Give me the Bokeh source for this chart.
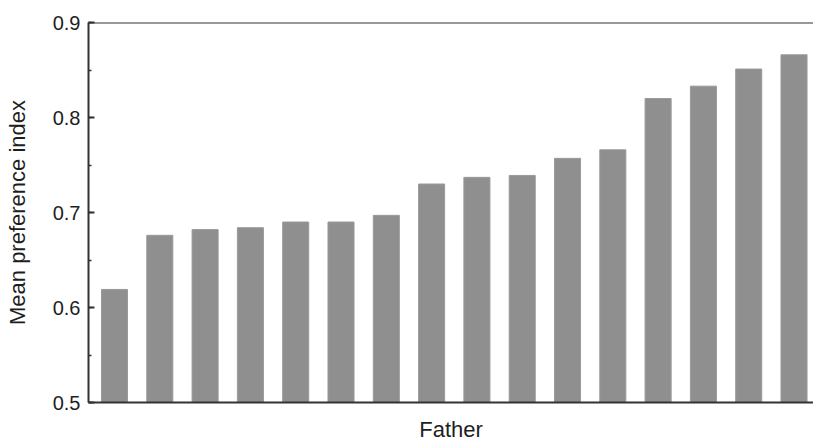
from bokeh.plotting import figure
from bokeh.models import Range1d, SingleIntervalTicker, Span, ColumnDataSource, FixedTicker
from bokeh.embed import file_html
from bokeh.resources import INLINE

fathers = list(range(1, 17))
mean_pref = [0.619, 0.676, 0.682, 0.684, 0.690, 0.690, 0.697, 0.730,
             0.737, 0.739, 0.757, 0.766, 0.820, 0.833, 0.851, 0.866]
y_ticks = [0.5, 0.6, 0.7, 0.8, 0.9]

src = ColumnDataSource(dict(x=fathers, top=mean_pref))

p = figure(width=813, height=444, output_backend="svg", toolbar_location=None,
           x_range=Range1d(0.426, 16.43), y_range=Range1d(0.5, 0.9),
           min_border_left=88, min_border_right=0, min_border_top=22, min_border_bottom=40)

p.vbar(x="x", top="top", bottom=0.5, width=0.575, source=src,
       fill_color="#8f8f8f", line_color="#9a9a9a", line_width=1)

p.grid.visible = False
p.outline_line_color = None
p.background_fill_color = "white"

# y axis
p.yaxis.ticker = SingleIntervalTicker(interval=0.1, num_minor_ticks=2)
p.yaxis.major_label_overrides = {v: f"{v:.1f}" for v in y_ticks}
p.yaxis.axis_label = "Mean preference index"
p.yaxis.axis_label_text_font = "Liberation Sans"
p.yaxis.axis_label_text_font_style = "normal"
p.yaxis.axis_label_text_font_size = "22px"
p.yaxis.axis_label_text_color = "#1e1e1e"
p.yaxis.axis_label_standoff = 20
p.yaxis.major_label_text_font = "Liberation Sans"
p.yaxis.major_label_text_font_size = "20px"
p.yaxis.major_label_text_color = "#1e1e1e"
p.yaxis.major_label_standoff = 8
p.yaxis.major_tick_in = 6
p.yaxis.major_tick_out = 0
p.yaxis.minor_tick_in = 3
p.yaxis.minor_tick_out = 0
p.yaxis.axis_line_width = 2
p.yaxis.axis_line_color = "#333333"
p.yaxis.major_tick_line_color = "#333333"
p.yaxis.minor_tick_line_color = "#333333"
p.yaxis.major_tick_line_width = 2
p.yaxis.minor_tick_line_width = 1.5

# x axis
p.xaxis.ticker = FixedTicker(ticks=[])
p.xaxis.axis_label = "Father"
p.xaxis.axis_label_text_font = "Liberation Sans"
p.xaxis.axis_label_text_font_style = "normal"
p.xaxis.axis_label_text_font_size = "22px"
p.xaxis.axis_label_text_color = "#1e1e1e"
p.xaxis.axis_label_standoff = 14
p.xaxis.major_tick_line_color = None
p.xaxis.minor_tick_line_color = None
p.xaxis.axis_line_width = 2
p.xaxis.axis_line_color = "#333333"

top_line = Span(location=0.9, dimension="width", line_color="#333333", line_width=2)
p.add_layout(top_line)

open("out.html", "w").write(file_html(p, INLINE))
